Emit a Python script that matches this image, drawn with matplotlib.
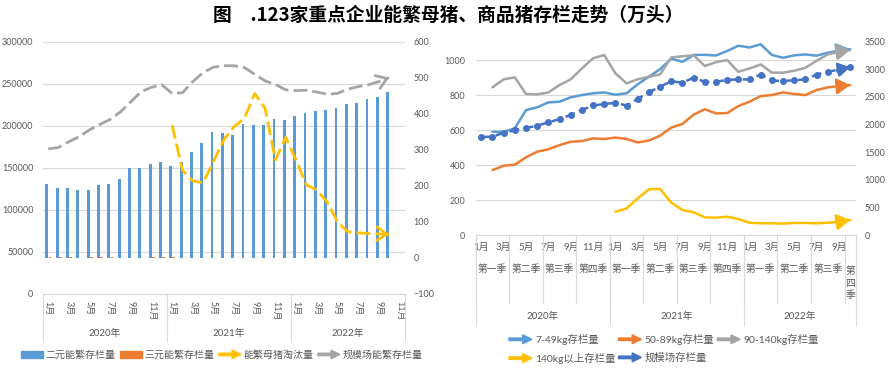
import matplotlib
matplotlib.use("Agg")
import matplotlib.pyplot as plt
from matplotlib.lines import Line2D
from matplotlib.patches import Rectangle, FancyArrow
from matplotlib.legend_handler import HandlerBase

plt.rcParams['font.family'] = ['Lato', 'Noto Sans CJK SC', 'DejaVu Sans']

TXT = '#595959'
GRID = '#D9D9D9'

# ---------------- 左图数据 (2020-01 ~ 2022-11) ----------------
left_years = [2020] * 12 + [2021] * 12 + [2022] * 11
left_months = list(range(1, 13)) + list(range(1, 13)) + list(range(1, 12))

erchun = [206, 194, 194, 189, 188, 202, 205, 219, 251, 251, 261, 266,
          256, 266, 294, 320, 350, 346, 341, 371, 369, 369, 386, 382,
          395, 403, 407, 410, 418, 427, 430, 441, 446, 460]
sanyuan = [2, 2, 2, 1, 2, 2, 2, 1, 1, 1, 2, 2, 2, 1, 1, 1, 1,
           1, 1, 1, 1, 1, 1, 1, 1, 1, 1, 1, 1, 1, 1, 1, 1, 1]
taotai_start = 12
taotai = [369, 244, 214, 209, 268, 328, 365, 388, 457, 416, 272, 335,
          272, 203, 189, 156, 101, 73, 70, 68, 67, 66]
guimo_nf = [303, 307, 323, 337, 356, 371, 385, 406, 434, 462, 474, 481,
            457, 459, 490, 515, 530, 534, 534, 529, 510, 492, 482, 467,
            465, 466, 461, 455, 457, 469, 476, 481, 490, 501]

# ---------------- 右图数据 (2020-01 ~ 2022-10) ----------------
right_years = [2020] * 12 + [2021] * 12 + [2022] * 10
right_months = list(range(1, 13)) + list(range(1, 13)) + list(range(1, 11))
quarter_names = ['第一季', '第二季', '第三季', '第四季']

kg7_49 = [590, 590, 610, 714, 730, 758, 762, 787, 800, 810, 815, 802,
          810, 862, 905, 948, 1008, 990, 1029, 1030, 1026, 1052, 1082, 1072,
          1090, 1029, 1013, 1027, 1032, 1025, 1042, 1053, 1063]
kg50_89 = [371, 396, 402, 444, 476, 490, 514, 533, 537, 552, 549, 557,
           549, 529, 540, 568, 614, 635, 688, 719, 695, 697, 737, 762,
           794, 800, 815, 806, 800, 829, 844, 851, 857]
kg90_140 = [844, 890, 901, 806, 804, 815, 857, 890, 952, 1010, 1029, 924,
            867, 890, 905, 918, 1015, 1022, 1027, 966, 988, 1000, 933, 952,
            975, 928, 928, 939, 956, 996, 1032, 1048, 1057]
kg140_start = 12
kg140 = [133, 152, 210, 261, 263, 185, 143, 130, 101, 99, 105, 91,
         70, 67, 67, 65, 69, 69, 67, 70, 76, 86]
guimo_total = [1774, 1780, 1852, 1895, 1937, 1978, 2040, 2099, 2177, 2262, 2346, 2370,
               2394, 2344, 2463, 2584, 2686, 2785, 2755, 2851, 2773, 2773, 2810, 2816,
               2816, 2906, 2798, 2785, 2803, 2816, 2906, 2953, 2996, 3038]


class ArrowHandler(HandlerBase):
    def create_artists(self, legend, orig, xd, yd, w, h, fontsize, trans):
        y = h / 2 - yd
        a = FancyArrow(-xd, y, w, 0, width=h * 0.38, head_width=h * 1.35,
                       head_length=w * 0.4, length_includes_head=True,
                       color=orig.get_color(), transform=trans)
        return [a]


def end_arrow(ax, xs, ys, color, style, lw, scale):
    x0, y0 = xs[-2], ys[-2]
    x1, y1 = xs[-1], ys[-1]
    ax.annotate('', xy=(x1, y1), xytext=(x1 + 0.3 * (x0 - x1), y1 + 0.3 * (y0 - y1)),
                arrowprops=dict(arrowstyle=style, color=color, lw=lw,
                                shrinkA=0, shrinkB=0, mutation_scale=scale))


def clean(ax):
    for s in ['top', 'left', 'right']:
        ax.spines[s].set_visible(False)
    ax.spines['bottom'].set_color(GRID)


fig = plt.figure(figsize=(8.91, 3.68), dpi=100)
fig.text(0.503, 0.959, '图\u3000.123家重点企业能繁母猪、商品猪存栏走势（万头）',
         ha='center', va='center', fontsize=13.5, fontweight='bold',
         family=['Noto Sans CJK SC', 'DejaVu Sans'])

# ======================= 左图 =======================
ax1 = fig.add_axes([0.0483, 0.2011, 0.4057, 0.6848])
ax1r = ax1.twinx()
n_left = len(left_months)
ax1.set_xlim(-0.5, n_left - 0.5)
ax1.set_ylim(0, 300000)
ax1.set_yticks(range(0, 300001, 50000))
ax1.yaxis.grid(True, color=GRID, lw=0.8)
ax1.set_axisbelow(True)
ax1.tick_params(axis='y', length=0, pad=7, labelsize=6.5, labelcolor=TXT)
clean(ax1)

ax1r.set_ylim(-100, 600)
ax1r.set_yticks(range(-100, 601, 100))
ax1r.tick_params(axis='y', length=0, pad=6.5, labelsize=6.5, labelcolor=TXT)
for s in ax1r.spines.values():
    s.set_visible(False)

xb = list(range(len(erchun)))
ax1r.bar([x - 0.13 for x in xb], erchun, width=0.27, color='#5B9BD5')
ax1r.bar([x + 0.17 for x in xb], sanyuan, width=0.27, color='#ED7D31')

xt = list(range(taotai_start, taotai_start + len(taotai)))
ax1r.plot(xt, taotai, color='#FFC000', lw=2, dashes=(5, 1.8))
end_arrow(ax1r, xt, taotai, '#FFC000', '->,head_length=0.5,head_width=0.35', 2, 14)
xg = list(range(len(guimo_nf)))
ax1r.plot(xg, guimo_nf, color='#A5A5A5', lw=2, dashes=(5, 1.8))
end_arrow(ax1r, xg, guimo_nf, '#A5A5A5', '->,head_length=0.5,head_width=0.35', 2, 14)

ticks = [i for i in range(n_left) if i % 2 == 0]
ax1.set_xticks(ticks)
ax1.set_xticklabels([f'{left_months[i]}月' for i in ticks], rotation=270,
                    va='top', ha='center', fontsize=6.5, color=TXT)
ax1.tick_params(axis='x', length=0, pad=5)
xtr = ax1.get_xaxis_transform()
for yr in sorted(set(left_years)):
    idx = [i for i, y in enumerate(left_years) if y == yr]
    ax1.text((idx[0] + idx[-1]) / 2, -0.155, f'{yr}年', transform=xtr,
             ha='center', va='center', fontsize=7, color=TXT)
    ax1.plot([idx[0] - 0.5] * 2, [0, -0.185], transform=xtr, clip_on=False, color=GRID, lw=0.8)
ax1.plot([n_left - 0.5] * 2, [0, -0.185], transform=xtr, clip_on=False, color=GRID, lw=0.8)

lh = [Rectangle((0, 0), 1, 1, color='#5B9BD5'), Rectangle((0, 0), 1, 1, color='#ED7D31'),
      Line2D([], [], color='#FFC000'), Line2D([], [], color='#A5A5A5')]
ll = ['二元能繁存栏量', '三元能繁存栏量', '能繁母猪淘汰量', '规模场能繁存栏量']
leg1 = fig.legend(lh, ll, loc='center', bbox_to_anchor=(0.249, 0.035), ncol=4, frameon=False,
                  fontsize=7.2, handlelength=2.2, handleheight=0.6, handletextpad=0.3,
                  columnspacing=0.4, handler_map={Line2D: ArrowHandler()})
for t in leg1.get_texts():
    t.set_color(TXT)

# ======================= 右图 =======================
ax2 = fig.add_axes([0.5339, 0.3614, 0.4265, 0.5253])
ax2r = ax2.twinx()
n_right = len(right_months)
ax2.set_xlim(-0.5, n_right - 0.5)
ax2.set_ylim(0, 1105)
ax2.set_yticks(range(0, 1001, 200))
ax2.yaxis.grid(True, color=GRID, lw=0.8)
ax2.set_axisbelow(True)
ax2.tick_params(axis='y', length=0, pad=7.5, labelsize=6.5, labelcolor=TXT)
clean(ax2)
ax2r.set_ylim(0, 3500)
ax2r.set_yticks(range(0, 3501, 500))
ax2r.tick_params(axis='y', length=0, pad=6.5, labelsize=6.5, labelcolor=TXT)
for s in ax2r.spines.values():
    s.set_visible(False)

arrow_r = '-|>,head_length=0.5,head_width=0.3'
series = [(kg7_49, 1, '#5B9BD5'), (kg50_89, 1, '#ED7D31'),
          (kg90_140, 1, '#A5A5A5'), (kg140, kg140_start, '#FFC000')]
for vals, start, col in series:
    xs = list(range(start, start + len(vals)))
    ax2.plot(xs, vals, color=col, lw=1.8, solid_capstyle='round')
    end_arrow(ax2, xs, vals, col, arrow_r, 1.8, 16)

xs = list(range(len(guimo_total)))
ax2r.plot(xs, guimo_total, color='#4472C4', lw=1.8, dashes=(4, 1.8), marker='o', ms=4)
end_arrow(ax2r, xs, guimo_total, '#4472C4', arrow_r, 1.8, 14)

ticks = [i for i in range(n_right) if i % 2 == 0]
ax2.set_xticks(ticks)
ax2.set_xticklabels([f'{right_months[i]}月' for i in ticks], fontsize=7, color=TXT)
ax2.tick_params(axis='x', length=0, pad=6)
xtr2 = ax2.get_xaxis_transform()
groups = []
for i, (y, m) in enumerate(zip(right_years, right_months)):
    key = (y, (m - 1) // 3)
    if not groups or groups[-1][0] != key:
        groups.append([key, []])
    groups[-1][1].append(i)
for (y, q), idx in groups:
    c = (idx[0] + idx[-1]) / 2
    if len(idx) == 1:
        ax2.text(c, -0.248, '\n'.join(quarter_names[q]), transform=xtr2, ha='center',
                 va='center', fontsize=7, color=TXT, linespacing=1.4)
    else:
        ax2.text(c, -0.176, quarter_names[q], transform=xtr2, ha='center', va='center',
                 fontsize=7, color=TXT)
    ax2.plot([idx[0] - 0.5] * 2, [0, -0.352], transform=xtr2, clip_on=False, color=GRID, lw=0.8)
for yr in sorted(set(right_years)):
    idx = [i for i, y in enumerate(right_years) if y == yr]
    ax2.text((idx[0] + idx[-1]) / 2, -0.419, f'{yr}年', transform=xtr2,
             ha='center', va='center', fontsize=7, color=TXT)
    ax2.plot([idx[0] - 0.5] * 2, [0, -0.466], transform=xtr2, clip_on=False, color=GRID, lw=0.8)
ax2.plot([n_right - 0.5] * 2, [0, -0.466], transform=xtr2, clip_on=False, color=GRID, lw=0.8)

rh = [Line2D([], [], color='#5B9BD5'), Line2D([], [], color='#FFC000'),
      Line2D([], [], color='#ED7D31'), Line2D([], [], color='#4472C4'),
      Line2D([], [], color='#A5A5A5')]
rl = ['7-49kg存栏量', '140kg以上存栏量', '50-89kg存栏量', '规模场存栏量', '90-140kg存栏量']
leg2 = fig.legend(rh, rl, loc='center', bbox_to_anchor=(0.745, 0.052), ncol=3, frameon=False,
                  fontsize=7.5, handlelength=2.2, handleheight=0.6, handletextpad=0.3,
                  columnspacing=0.3, labelspacing=0.75, handler_map={Line2D: ArrowHandler()})
for t in leg2.get_texts():
    t.set_color(TXT)

fig.savefig('out.png', dpi=100)
